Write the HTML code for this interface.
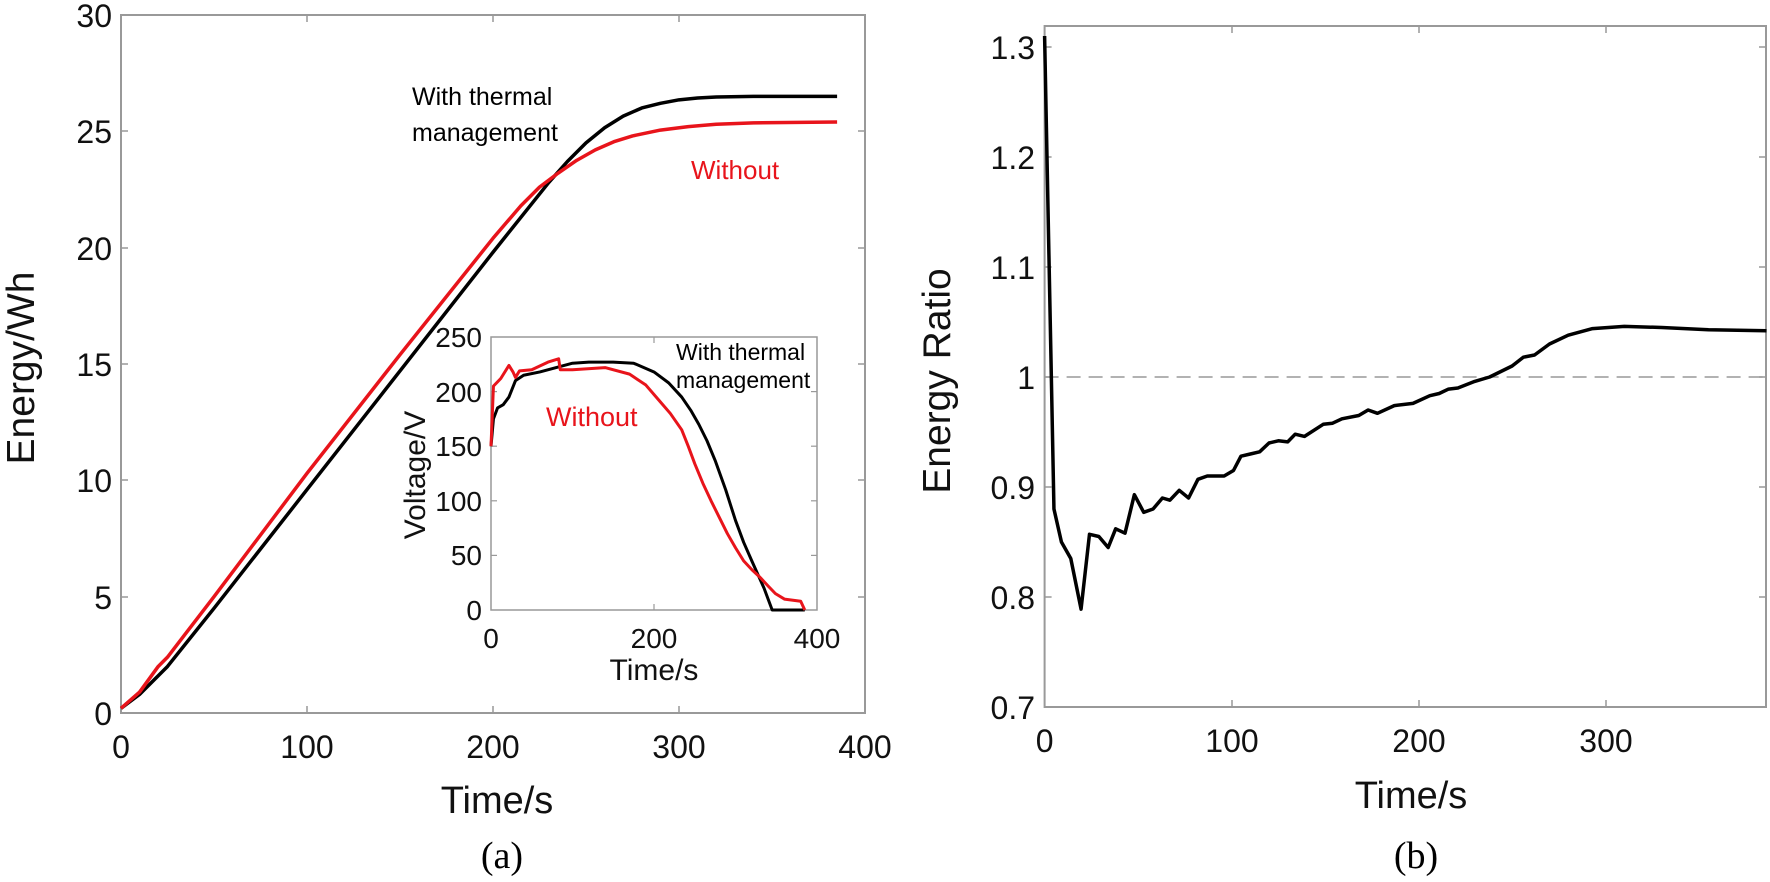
<!DOCTYPE html>
<html><head><meta charset="utf-8"><style>
html,body{margin:0;padding:0;background:#fff;}
svg{display:block;font-family:"Liberation Sans",Arial,sans-serif;}
</style></head><body>
<svg width="1770" height="882" viewBox="0 0 1770 882" xmlns="http://www.w3.org/2000/svg">
<rect width="1770" height="882" fill="#fff"/>
<!-- LEFT MAIN -->
<rect x="121" y="15" width="744" height="698" fill="none" stroke="#999" stroke-width="2"/>
<g stroke="#999" stroke-width="1.5">
<line x1="307" y1="713" x2="307" y2="706"/><line x1="493" y1="713" x2="493" y2="706"/><line x1="679" y1="713" x2="679" y2="706"/>
<line x1="307" y1="15" x2="307" y2="22"/><line x1="493" y1="15" x2="493" y2="22"/><line x1="679" y1="15" x2="679" y2="22"/>
<line x1="121" y1="597" x2="128" y2="597"/><line x1="121" y1="480" x2="128" y2="480"/><line x1="121" y1="364" x2="128" y2="364"/><line x1="121" y1="248" x2="128" y2="248"/><line x1="121" y1="131" x2="128" y2="131"/>
<line x1="865" y1="597" x2="858" y2="597"/><line x1="865" y1="480" x2="858" y2="480"/><line x1="865" y1="364" x2="858" y2="364"/><line x1="865" y1="248" x2="858" y2="248"/><line x1="865" y1="131" x2="858" y2="131"/>
</g>
<g font-size="32" fill="#111" text-anchor="end">
<text x="112" y="725">0</text><text x="112" y="609">5</text><text x="112" y="492">10</text><text x="112" y="376">15</text><text x="112" y="260">20</text><text x="112" y="143">25</text><text x="112" y="27">30</text>
</g>
<g font-size="32" fill="#111" text-anchor="middle">
<text x="121" y="758">0</text><text x="307" y="758">100</text><text x="493" y="758">200</text><text x="679" y="758">300</text><text x="865" y="758">400</text>
</g>
<text x="497" y="813" font-size="38" text-anchor="middle" fill="#111">Time/s</text>
<text transform="translate(34,368) rotate(-90)" font-size="39" text-anchor="middle" fill="#111">Energy/Wh</text>
<g transform="matrix(1.86 0 0 -23.27 121 713)" fill="none" stroke-linejoin="round">
<polyline vector-effect="non-scaling-stroke" stroke="#000" stroke-width="3.5" points="0,0.2 10,0.8 25,2.0 50,4.5 100,9.6 150,14.7 200,19.8 220,21.8 230,22.8 240,23.7 250,24.5 260,25.15 270,25.65 280,26.0 290,26.2 300,26.35 310,26.43 320,26.47 340,26.5 385,26.5"/>
<polyline vector-effect="non-scaling-stroke" stroke="#e8141b" stroke-width="3.5" points="0,0.2 10,0.9 20,2.0 25,2.4 50,5.0 100,10.3 150,15.4 200,20.4 215,21.8 225,22.6 235,23.2 245,23.75 255,24.2 265,24.55 275,24.8 290,25.05 305,25.2 320,25.3 340,25.36 385,25.4"/>
</g>
<text x="412" y="105" font-size="25" fill="#000">With thermal</text>
<text x="412" y="141" font-size="25" fill="#000">management</text>
<text x="691" y="179" font-size="26" fill="#e8141b">Without</text>
<!-- INSET -->
<rect x="491" y="337" width="326" height="273" fill="#fff" stroke="#999" stroke-width="1.5"/>
<g stroke="#999" stroke-width="1.2">
<line x1="654" y1="610" x2="654" y2="604"/><line x1="654" y1="337" x2="654" y2="343"/>
<line x1="491" y1="555.4" x2="497" y2="555.4"/><line x1="491" y1="500.8" x2="497" y2="500.8"/><line x1="491" y1="446.2" x2="497" y2="446.2"/><line x1="491" y1="391.6" x2="497" y2="391.6"/>
<line x1="817" y1="555.4" x2="811" y2="555.4"/><line x1="817" y1="500.8" x2="811" y2="500.8"/><line x1="817" y1="446.2" x2="811" y2="446.2"/><line x1="817" y1="391.6" x2="811" y2="391.6"/>
</g>
<g font-size="28" fill="#111" text-anchor="end">
<text x="482" y="620">0</text><text x="482" y="565">50</text><text x="482" y="511">100</text><text x="482" y="456">150</text><text x="482" y="402">200</text><text x="482" y="347">250</text>
</g>
<g font-size="28" fill="#111" text-anchor="middle">
<text x="491" y="648">0</text><text x="654" y="648">200</text><text x="817" y="648">400</text>
</g>
<text x="654" y="680" font-size="30" text-anchor="middle" fill="#111">Time/s</text>
<text transform="translate(425,475) rotate(-90)" font-size="30" text-anchor="middle" fill="#111">Voltage/V</text>
<g transform="matrix(0.815 0 0 -1.092 491 610)" fill="none" stroke-linejoin="round">
<polyline vector-effect="non-scaling-stroke" stroke="#000" stroke-width="3" points="0,150 3,175 8,185 15,188 22,195 30,210 40,215 60,218 80,222 100,226 120,227 150,227 175,226 200,218 218,208 234,195 245,183 255,170 265,155 275,137 288,110 300,82 310,62 320,45 335,20 345,0 385,0"/>
<polyline vector-effect="non-scaling-stroke" stroke="#e8141b" stroke-width="3" points="0,150 3,205 12,212 22,224 27,218 30,213 35,219 50,220 70,227 83,230 85,220 100,220 140,222 170,216 190,206 205,193 220,180 234,165 242,150 250,134 260,116 270,100 280,85 290,70 300,57 310,45 320,37 330,30 340,22 349,15 360,10 380,8 385,0"/>
</g>
<text x="676" y="360" font-size="23" fill="#000">With thermal</text>
<text x="676" y="388" font-size="23" fill="#000">management</text>
<text x="546" y="426" font-size="27" fill="#e8141b">Without</text>
<!-- RIGHT -->
<rect x="1044.6" y="26" width="721.4" height="681" fill="none" stroke="#999" stroke-width="2"/>
<g stroke="#999" stroke-width="1.5">
<line x1="1232" y1="707" x2="1232" y2="700"/><line x1="1419" y1="707" x2="1419" y2="700"/><line x1="1606" y1="707" x2="1606" y2="700"/>
<line x1="1232" y1="26" x2="1232" y2="33"/><line x1="1419" y1="26" x2="1419" y2="33"/><line x1="1606" y1="26" x2="1606" y2="33"/>
<line x1="1044.6" y1="597" x2="1051.6" y2="597"/><line x1="1044.6" y1="487" x2="1051.6" y2="487"/><line x1="1044.6" y1="377" x2="1051.6" y2="377"/><line x1="1044.6" y1="267" x2="1051.6" y2="267"/><line x1="1044.6" y1="157" x2="1051.6" y2="157"/><line x1="1044.6" y1="47" x2="1051.6" y2="47"/>
<line x1="1766" y1="597" x2="1759" y2="597"/><line x1="1766" y1="487" x2="1759" y2="487"/><line x1="1766" y1="377" x2="1759" y2="377"/><line x1="1766" y1="267" x2="1759" y2="267"/><line x1="1766" y1="157" x2="1759" y2="157"/><line x1="1766" y1="47" x2="1759" y2="47"/>
</g>
<g font-size="32" fill="#111" text-anchor="end">
<text x="1035" y="719">0.7</text><text x="1035" y="609">0.8</text><text x="1035" y="499">0.9</text><text x="1035" y="389">1</text><text x="1035" y="279">1.1</text><text x="1035" y="169">1.2</text><text x="1035" y="59">1.3</text>
</g>
<g font-size="32" fill="#111" text-anchor="middle">
<text x="1044.6" y="752">0</text><text x="1232" y="752">100</text><text x="1419" y="752">200</text><text x="1606" y="752">300</text>
</g>
<text x="1411" y="808" font-size="38" text-anchor="middle" fill="#111">Time/s</text>
<text transform="translate(950,381) rotate(-90)" font-size="39" text-anchor="middle" fill="#111">Energy Ratio</text>
<line x1="1044.6" y1="377" x2="1766" y2="377" stroke="#999" stroke-width="1.5" stroke-dasharray="14,8"/>
<g transform="matrix(1.87 0 0 -1100 1044.6 1477)" fill="none" stroke-linejoin="round">
<polyline vector-effect="non-scaling-stroke" stroke="#000" stroke-width="3.5" points="0,1.31 5,0.88 9,0.85 14,0.835 19.5,0.789 24,0.857 29,0.855 34,0.845 38,0.862 43,0.858 48,0.893 53,0.877 58,0.88 63,0.89 67,0.888 72,0.897 77,0.89 82,0.907 87,0.91 96,0.91 101,0.915 105,0.928 110,0.93 115,0.932 120,0.94 125,0.942 130,0.941 134,0.948 139,0.946 149,0.957 154,0.958 159,0.962 168,0.965 173,0.97 178,0.967 187,0.974 197,0.976 206,0.983 211,0.985 216,0.989 221,0.99 230,0.996 238,1.0 250,1.01 256,1.018 262,1.02 270,1.03 280,1.038 293,1.044 310,1.046 330,1.045 355,1.043 386,1.042"/>
</g>
<text x="502" y="868" font-size="38" text-anchor="middle" fill="#000" font-family="Liberation Serif,serif">(a)</text>
<text x="1416" y="868" font-size="38" text-anchor="middle" fill="#000" font-family="Liberation Serif,serif">(b)</text>
</svg>
</body></html>
